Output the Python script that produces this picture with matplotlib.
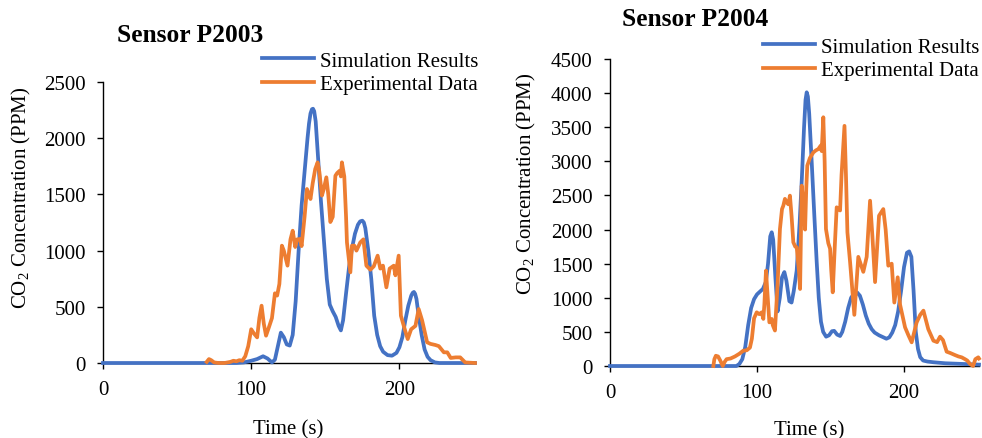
import matplotlib
matplotlib.use("Agg")
import matplotlib.pyplot as plt

plt.rcParams['font.family'] = ['Liberation Serif', 'DejaVu Serif']
plt.rcParams['mathtext.fontset'] = 'custom'
plt.rcParams['mathtext.rm'] = 'Liberation Serif'

BLUE = '#4472C4'
ORANGE = '#ED7D31'

# ---------------- Sensor P2003 ----------------
sim1_t = [0, 80, 90, 95, 100, 104, 108, 111, 114, 116, 118, 120, 122, 124, 126, 128, 130, 132,
          134, 136, 138, 139, 140, 141, 141.7, 142.5, 143.5, 145, 147, 149, 151, 153, 155, 157,
          159, 160.5, 162, 164, 166, 168, 170, 172, 173.5, 175, 176, 177, 179, 181, 183, 185,
          187, 189, 192, 195, 198, 200, 202, 204, 206, 208, 209, 209.8, 210.6, 211.5, 213, 215,
          217, 219, 221, 224, 227, 251]
sim1_v = [0, 0, 0, 5, 20, 35, 60, 40, 5, 30, 150, 270, 230, 165, 155, 250, 550, 1000,
          1400, 1700, 2000, 2130, 2220, 2258, 2262, 2240, 2150, 1850, 1450, 1100, 750, 520, 460,
          410, 330, 290, 380, 620, 850, 1020, 1150, 1230, 1260, 1266, 1250, 1200, 1000, 750, 420,
          250, 150, 100, 70, 65, 90, 140, 230, 380, 510, 600, 625, 632, 615, 570, 420, 250,
          120, 55, 25, 5, 0, 0]

exp1_t = [70, 71.5, 73, 75, 78, 82, 86, 88, 90, 92, 94, 96, 98, 100, 102, 104, 105.5, 107, 108.5,
          110, 112, 114, 116, 117.5, 119, 120.7, 122, 124.5, 126.5, 128, 129.7, 131, 133, 134,
          136, 137.6, 139, 140, 141.5, 143.2, 144.8, 146, 147.7, 149, 150.7, 152, 153.4, 155,
          156.8, 158, 159.7, 160.5, 161.2, 162.8, 164, 164.6, 166.9, 168, 169.6, 171, 173.6,
          175.7, 177.7, 180.4, 182.7, 185.3, 187.1, 188.9, 191.2, 193.4, 196.2, 197.3, 199.5,
          201, 203.6, 205.6, 207.9, 210.8, 213, 215.3, 218.7, 221, 224.3, 226.6, 230, 232.3,
          234.6, 238, 241, 244.4, 251]
exp1_v = [10, 35, 25, 5, 0, 0, 10, 20, 15, 25, 20, 60, 150, 300, 260, 228, 400, 510, 350,
          243, 320, 400, 620, 600, 703, 1044, 1000, 866, 1100, 1177, 1032, 1100, 1103, 1040,
          1300, 1548, 1500, 1459, 1600, 1726, 1785, 1700, 1489, 1550, 1652, 1500, 1254, 1300,
          1666, 1690, 1711, 1660, 1785, 1660, 1300, 1073, 807, 1044, 1044, 1000, 1073,
          1100, 866, 830, 860, 955, 840, 866, 673, 840, 866, 780, 955,
          421, 300, 213, 300, 330, 480, 380, 184, 170, 160, 150, 95, 95,
          45, 50, 50, 5, 0]

# ---------------- Sensor P2004 ----------------
sim2_t = [0, 80, 86, 88, 90, 92, 94, 96, 98, 100, 102, 104, 106, 107.5, 109, 110, 111, 112.5,
          114, 115.5, 117, 118.6, 120, 122, 123.5, 125, 127, 129, 130.5, 132, 133, 133.8, 134.6,
          135.5, 137.2, 139, 140.6, 142, 143.5, 145, 147, 149, 151, 152.5, 154.5, 156.5, 158,
          160, 162, 164, 166, 168, 170, 172, 174, 176, 178, 180, 183, 186, 188, 190, 192, 194,
          196, 198, 200, 202, 203.5, 205, 206.5, 208, 209.5, 211, 213, 216, 220, 228, 240, 251]
sim2_v = [0, 0, 0, 30, 100, 280, 600, 850, 980, 1050, 1090, 1130, 1230, 1500, 1900, 1960, 1850,
          1300, 800, 1000, 1300, 1377, 1250, 950, 930, 1100, 1400, 2100, 2750, 3500, 3900, 4012,
          3950, 3700, 2990, 2200, 1525, 1000, 650, 500, 430, 450, 510, 515, 460, 440, 500,
          650, 850, 1000, 1060, 1080, 1030, 900, 740, 620, 540, 490, 450, 420, 400, 420, 490,
          600, 800, 1100, 1450, 1660, 1680, 1600, 1100, 500, 250, 130, 80, 65, 55, 40, 30, 20]

exp2_t = [70.3, 71, 72, 73.5, 75, 76.7, 78, 79.3, 82, 85, 88, 90.7, 93, 95.2, 96.5, 98, 99.8,
          101.5, 103.2, 104.3, 105, 106.1, 107, 108.4, 110, 110.7, 112.2, 114, 115.6, 117, 117.9,
          119, 120, 121.3, 122.4, 123.5, 124.7, 126, 127, 128.5, 129.3, 130.4, 131.5, 132.7,
          133.5, 134.2, 136, 138.3, 140, 141.7, 143.3, 144, 145.1, 146, 146.9, 148.5, 149.7,
          150.5, 151.5, 153, 154.2, 155.5, 156.5, 157.5, 159.5, 160.5, 161.5, 163.3, 166.2,
          168.9, 172.3, 174.6, 176.9, 178.5, 180.3, 183, 185.9, 187.5, 189.3, 191.6, 193.4,
          195.7, 197.3, 200.7, 203, 205.2, 208.6, 211, 213.2, 216.5, 220, 222.5, 224.5, 226.5,
          229, 231.5, 234.7, 237, 239.2, 241.5, 243, 244.9, 247, 248.5, 250.5, 251]
exp2_v = [0, 100, 150, 140, 80, 0, 60, 100, 110, 140, 180, 225, 230, 270, 400, 700, 787,
          760, 787, 690, 900, 1397, 1100, 640, 690, 600, 520, 1200, 2008, 2300, 2350,
          2450, 2400, 2370, 2497, 2200, 1813, 1750, 1740, 1400, 1129, 2643, 2400, 2000,
          2600, 2937, 3050, 3130, 3160, 3180, 3230, 3150, 3646, 3000, 2008, 1800, 1720,
          1400, 1080, 1800, 2326, 2300, 2280, 2800, 3520, 2800, 1960, 1525, 750,
          1600, 1380, 1600, 2423, 1900, 1230, 2203, 2300, 2000, 1470, 1500, 930,
          1300, 900, 567, 450, 347, 640, 750, 811, 540, 371, 350, 430, 380,
          210, 190, 160, 140, 127, 100, 80, 30, 0, 100, 127, 110]

titles = ['Sensor P2003', 'Sensor P2004']
ylims = [2500, 4500]
labels = ['Simulation Results', 'Experimental Data']

fig = plt.figure(figsize=(9.82, 4.39), dpi=100)
W, H = 982, 439

def axrect(x0, x1, ytop, ybot):
    return [x0 / W, 1 - ybot / H, (x1 - x0) / W, (ybot - ytop) / H]

ax1 = fig.add_axes(axrect(103, 475, 83, 364))
ax2 = fig.add_axes(axrect(610, 979, 60, 367))

data = [(sim1_t, sim1_v, exp1_t, exp1_v), (sim2_t, sim2_v, exp2_t, exp2_v)]
for i, ax in enumerate([ax1, ax2]):
    st, sv, et, ev = data[i]
    ax.plot(st, sv, color=BLUE, lw=2.7, label=labels[0], clip_on=False, zorder=3,
            solid_joinstyle='round')
    ax.plot(et, ev, color=ORANGE, lw=2.7, label=labels[1], clip_on=False, zorder=4,
            solid_joinstyle='round')
    ax.set_xlim(0, 251)
    ax.set_ylim(0, ylims[i])
    ax.set_xticks([0, 100, 200])
    ax.set_yticks(range(0, ylims[i] + 1, 500))
    for s in ['top', 'right']:
        ax.spines[s].set_visible(False)
    for s in ['left', 'bottom']:
        ax.spines[s].set_linewidth(1.0)
        ax.spines[s].set_color('black')
    ax.tick_params(axis='both', direction='out', length=4.5, width=1.0, labelsize=15,
                   pad=8, colors='black')
    ax.set_xlabel('Time (s)', fontsize=15)
    ax.set_ylabel('CO$_2$ Concentration (PPM)', fontsize=15)

ax1.yaxis.set_label_coords(-0.189, 0.59)
ax1.xaxis.set_label_coords(0.497, -0.2)
ax2.yaxis.set_label_coords(-0.195, 0.596)
ax2.xaxis.set_label_coords(0.539, -0.176)

fig.text(190 / W, 1 - 36 / H, titles[0], fontsize=18.4, fontweight='bold', ha='center', va='center')
fig.text(695 / W, 1 - 20 / H, titles[1], fontsize=18.4, fontweight='bold', ha='center', va='center')

leg_kw = dict(frameon=False, fontsize=15, handlelength=2.5, handletextpad=0.25,
              labelspacing=0.2, borderpad=0, borderaxespad=0, loc='upper right')
ax1.legend(bbox_to_anchor=(478 / W, 1 - 52 / H), bbox_transform=fig.transFigure, **leg_kw)
ax2.legend(bbox_to_anchor=(979 / W, 1 - 38 / H), bbox_transform=fig.transFigure, **leg_kw)

fig.savefig('out.png', dpi=100)
